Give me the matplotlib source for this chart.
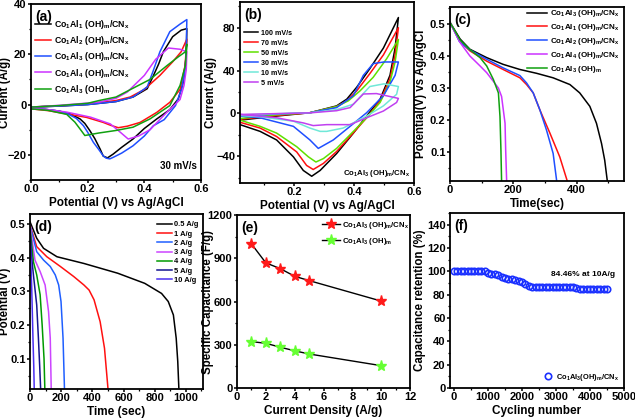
import matplotlib
matplotlib.use('Agg')
import matplotlib.pyplot as plt
from matplotlib.ticker import AutoMinorLocator, MultipleLocator

plt.rcParams['font.family'] = ['Liberation Sans', 'DejaVu Sans']
plt.rcParams['font.weight'] = 'bold'
plt.rcParams['axes.labelweight'] = 'bold'
plt.rcParams['mathtext.fontset'] = 'custom'
plt.rcParams['mathtext.rm'] = 'Liberation Sans:bold'
plt.rcParams['mathtext.it'] = 'Liberation Sans:bold'
plt.rcParams['mathtext.bf'] = 'Liberation Sans:bold'

### (a) CV at 30 mV/s, full loops (forward then reverse)
al1_v = [0.0, 0.1, 0.2, 0.3, 0.36, 0.41, 0.43, 0.45, 0.467, 0.5, 0.53, 0.55,
         0.548, 0.538, 0.52, 0.49, 0.444, 0.4, 0.36, 0.32, 0.29, 0.27, 0.255, 0.244,
         0.225, 0.208, 0.19, 0.173, 0.14, 0.1, 0.05, 0.0]
al1_i = [-1.0, -0.6, 0.0, 1.2, 3.0, 6.3, 11.0, 16.0, 21.0, 27.0, 29.6, 30.2,
         20.0, 9.0, 2.3, -2.0, -5.7, -9.5, -13.7, -17.0, -19.7, -21.2, -20.5, -17.7,
         -13.5, -10.4, -7.5, -5.7, -3.8, -2.6, -1.9, -1.6]
al2_v = [0.0, 0.1, 0.2, 0.3, 0.35, 0.4, 0.455, 0.5, 0.53, 0.55,
         0.544, 0.526, 0.49, 0.444, 0.385, 0.34, 0.308, 0.28, 0.255, 0.196, 0.126, 0.06, 0.0]
al2_i = [-1.0, -0.5, 0.2, 1.6, 3.0, 6.0, 11.6, 17.0, 21.0, 26.0,
         15.6, 6.0, 0.9, -3.1, -7.1, -8.6, -9.2, -8.2, -7.1, -5.1, -3.7, -2.4, -1.7]
al3_v = [0.0, 0.1, 0.2, 0.3, 0.36, 0.41, 0.43, 0.455, 0.49, 0.526, 0.55,
         0.548, 0.545, 0.532, 0.51, 0.47, 0.432, 0.4, 0.36, 0.32, 0.29, 0.278, 0.265,
         0.255, 0.24, 0.22, 0.2, 0.185, 0.16, 0.13, 0.1, 0.05, 0.0]
al3_i = [-1.0, -0.6, 0.0, 1.2, 3.0, 7.0, 13.0, 21.0, 29.0, 32.0, 33.8,
         22.0, 15.0, 6.3, -0.4, -6.0, -8.4, -12.5, -16.4, -19.3, -21.0, -21.6, -21.3,
         -20.4, -18.0, -15.0, -11.0, -8.4, -5.5, -3.7, -2.6, -1.9, -1.6]
al4_v = [0.0, 0.1, 0.2, 0.24, 0.3, 0.34, 0.4, 0.44, 0.485, 0.526, 0.55,
         0.548, 0.54, 0.526, 0.48, 0.42, 0.38, 0.343, 0.31, 0.28, 0.21, 0.126, 0.06, 0.0]
al4_i = [-1.0, -0.3, 0.6, 1.0, 2.5, 5.0, 11.6, 18.0, 22.5, 22.0, 21.0,
         14.0, 7.6, 2.0, -3.0, -10.0, -12.5, -13.7, -10.5, -7.7, -5.0, -3.0, -2.0, -1.5]
oh_v = [0.0, 0.1, 0.2, 0.24, 0.3, 0.36, 0.42, 0.48, 0.52, 0.545, 0.55,
        0.545, 0.526, 0.49, 0.42, 0.36, 0.3, 0.24, 0.19, 0.175, 0.155, 0.126, 0.06, 0.0]
oh_i = [-1.0, -0.4, 0.5, 1.6, 3.0, 6.5, 10.0, 15.5, 19.0, 21.0, 24.0,
        15.6, 7.6, -0.4, -5.7, -9.0, -10.3, -11.3, -12.3, -10.0, -7.0, -3.9, -2.3, -1.7]

### (b) CV of Co1Al3(OH)m/CNx at different scan rates
r100_v = [0.02, 0.142, 0.253, 0.342, 0.376, 0.409, 0.453, 0.498, 0.548,
          0.537, 0.52, 0.487, 0.442, 0.398, 0.342, 0.287, 0.259, 0.231, 0.198, 0.142, 0.087, 0.02]
r100_i = [-6.3, -2.5, 0.6, 7.0, 13.3, 24.4, 41.9, 61.0, 89.5,
          61.0, 35.6, 13.3, -2.5, -18.4, -37.5, -53.3, -58.7, -53.3, -40.6, -24.8, -16.8, -10.5]
r70_v = [0.02, 0.142, 0.253, 0.342, 0.376, 0.409, 0.453, 0.498, 0.548,
         0.537, 0.52, 0.487, 0.442, 0.398, 0.342, 0.298, 0.264, 0.242, 0.209, 0.142, 0.087, 0.02]
r70_i = [-5.5, -2.0, 0.6, 6.4, 11.7, 21.0, 37.2, 54.6, 80.0,
         54.6, 32.4, 11.7, -4.1, -18.1, -35.6, -46.7, -52.4, -48.6, -36.0, -21.6, -13.7, -8.3]
r50_v = [0.02, 0.142, 0.253, 0.342, 0.381, 0.42, 0.464, 0.509, 0.548,
         0.537, 0.52, 0.487, 0.442, 0.398, 0.342, 0.298, 0.273, 0.248, 0.209, 0.142, 0.087, 0.02]
r50_i = [-4.8, -1.3, 0.6, 6.4, 11.7, 21.0, 33.7, 51.1, 69.0,
         48.0, 29.2, 10.2, -4.1, -16.8, -32.7, -42.2, -45.4, -40.6, -31.1, -18.4, -12.1, -6.3]
r30_v = [0.02, 0.142, 0.253, 0.342, 0.398, 0.431, 0.464, 0.5, 0.548,
         0.537, 0.498, 0.442, 0.387, 0.331, 0.281, 0.253, 0.198, 0.087, 0.02]
r30_i = [-2.5, -0.6, 0.6, 5.4, 16.5, 35.5, 46.5, 48.0, 48.0,
         35.5, 16.5, 0.6, -12.1, -24.8, -32.7, -24.8, -12.1, -4.1, -2.5]
r10_v = [0.02, 0.142, 0.253, 0.342, 0.398, 0.453, 0.5, 0.548,
         0.542, 0.498, 0.442, 0.364, 0.309, 0.287, 0.253, 0.198, 0.087, 0.02]
r10_i = [-1.5, -0.3, 0.6, 3.5, 8.6, 25.1, 27.6, 25.1,
         17.8, 7.0, -2.5, -13.7, -16.8, -16.8, -13.7, -7.3, -3.2, -2.0]
r5_v = [0.02, 0.142, 0.253, 0.342, 0.387, 0.431, 0.475, 0.548,
        0.542, 0.498, 0.442, 0.387, 0.309, 0.264, 0.231, 0.142, 0.02]
r5_i = [-1.0, -0.2, 0.5, 2.5, 5.4, 18.1, 18.5, 14.0,
        10.2, 2.2, -4.1, -10.5, -10.5, -11.4, -8.9, -4.1, -1.0]

### (c) discharge curves of the samples
c_al3_t = [0, 32, 63, 116, 168, 221, 274, 326, 379, 410, 442, 463, 479, 489, 497]
c_al3_v = [0.505, 0.453, 0.421, 0.395, 0.374, 0.358, 0.346, 0.332, 0.311, 0.285, 0.243, 0.19, 0.127, 0.075, 0.012]
c_al1_t = [0, 30, 63, 116, 168, 221, 242, 263, 284, 316, 347, 370]
c_al1_v = [0.505, 0.447, 0.416, 0.384, 0.358, 0.332, 0.311, 0.285, 0.232, 0.159, 0.085, 0.012]
c_al2_t = [0, 30, 63, 116, 168, 221, 242, 263, 284, 305, 326, 337]
c_al2_v = [0.505, 0.445, 0.419, 0.39, 0.363, 0.339, 0.316, 0.285, 0.232, 0.169, 0.096, 0.012]
c_al4_t = [0, 32, 63, 95, 116, 137, 153, 163, 174, 176, 179]
c_al4_v = [0.505, 0.442, 0.40, 0.369, 0.348, 0.321, 0.30, 0.274, 0.19, 0.106, 0.012]
c_oh_t = [0, 32, 63, 95, 116, 137, 153, 158, 161, 163]
c_oh_v = [0.505, 0.45, 0.42, 0.395, 0.369, 0.327, 0.285, 0.211, 0.106, 0.012]

### (d) discharge curves at different current densities
d05_t = [0, 43, 87, 173, 346, 563, 736, 844, 887, 920, 938, 948, 955]
d05_v = [0.507, 0.458, 0.428, 0.403, 0.383, 0.354, 0.324, 0.294, 0.27, 0.23, 0.161, 0.092, 0.013]
d1_t = [0, 43, 108, 195, 281, 346, 379, 411, 450, 478, 500]
d1_v = [0.497, 0.433, 0.403, 0.374, 0.344, 0.319, 0.304, 0.275, 0.21, 0.131, 0.013]
d2_t = [0, 43, 87, 130, 162, 184, 199, 212, 221]
d2_v = [0.497, 0.418, 0.393, 0.374, 0.349, 0.319, 0.27, 0.161, 0.013]
d3_t = [0, 32, 65, 97, 119, 130, 136]
d3_v = [0.497, 0.393, 0.359, 0.319, 0.24, 0.161, 0.013]
d4_t = [0, 22, 43, 65, 78, 90, 95]
d4_v = [0.49, 0.388, 0.349, 0.29, 0.2, 0.1, 0.013]
d5_t = [0, 11, 22, 43, 54, 62, 68]
d5_v = [0.48, 0.4, 0.349, 0.26, 0.161, 0.08, 0.013]
d10_t = [0, 5, 11, 19, 24, 27]
d10_v = [0.47, 0.4, 0.31, 0.161, 0.08, 0.013]

### (e) specific capacitance
density = [1, 2, 3, 4, 5, 10]
cap_cnx = [1000, 868, 828, 775, 745, 603]
cap_oh = [322, 310, 283, 258, 236, 155]

### (f) cycling stability
cycles = list(range(0, 4501, 100))
retention = [100, 100, 100, 100, 100, 100, 100, 100, 100, 100,
             98.5, 98, 98, 97, 95, 94, 93.5, 93.5, 92.5, 92,
             90.5, 89, 87.5, 87, 87, 86.8, 86.7, 86.5, 86.5, 86.5,
             86.5, 86.5, 86.5, 86.5, 86.5, 86.5, 86, 85, 84.5, 84.5,
             84.5, 84.5, 84.5, 84.5, 84.5, 84.46]

lab_al1 = r'Co$_1$Al$_1$ (OH)$_m$/CN$_x$'
lab_al2 = r'Co$_1$Al$_2$ (OH)$_m$/CN$_x$'
lab_al3 = r'Co$_1$Al$_3$ (OH)$_m$/CN$_x$'
lab_al4 = r'Co$_1$Al$_4$ (OH)$_m$/CN$_x$'
lab_oh = r'Co$_1$Al$_3$ (OH)$_m$'

def style(ax):
    for s in ax.spines.values():
        s.set_linewidth(1.3)
    ax.xaxis.set_minor_locator(AutoMinorLocator(2))
    ax.yaxis.set_minor_locator(AutoMinorLocator(2))
    ax.tick_params(which='major', direction='out', length=2.2, width=1.1, labelsize=8, pad=1.0)
    ax.tick_params(which='minor', direction='out', length=1.3, width=0.9)

def labels(ax, xl, yl, ylx):
    ax.set_xlabel(xl, fontsize=8.5, labelpad=2)
    ax.set_ylabel(yl, fontsize=8.3)
    ax.yaxis.set_label_coords(ylx, 0.5)

def panel(ax, letter):
    ax.text(0.025, 0.965, letter, transform=ax.transAxes, fontsize=10,
            fontweight='bold', ha='left', va='top')

fig = plt.figure(figsize=(6.35, 4.19), dpi=100)
W, H = 635., 419.
def place(l, r, t, b):
    return fig.add_axes([l/W, 1-b/H, (r-l)/W, (b-t)/H])

### (a)
ax = place(31, 201, 4, 180)
ax.plot(al1_v, al1_i, color='k', lw=1.1, label=lab_al1)
ax.plot(al2_v, al2_i, color='#ff1010', lw=1.1, label=lab_al2)
ax.plot(al3_v, al3_i, color='#1f4fff', lw=1.1, label=lab_al3)
ax.plot(al4_v, al4_i, color='#cc33ff', lw=1.1, label=lab_al4)
ax.plot(oh_v, oh_i, color='#10a010', lw=1.1, label=lab_oh)
ax.set_xlim(0, 0.6)
ax.set_ylim(-30, 40)
ax.yaxis.set_major_locator(MultipleLocator(20))
ax.set_xticks([0, 0.2, 0.4, 0.6], ['0.0', '0.2', '0.4', '0.6'])
style(ax)
labels(ax, 'Potential (V) vs Ag/AgCl', 'Current (A/g)', -0.116)
ax.legend(loc='upper left', bbox_to_anchor=(0.0, 0.945), frameon=False, fontsize=6.3,
          handlelength=1.8, handletextpad=0.35, labelspacing=0.36, borderaxespad=0.1)
ax.text(0.585, -24.5, '30 mV/s', fontsize=7, ha='right', va='center')
panel(ax, '(a)')

### (b)
ax = place(240, 414, 2, 183)
ax.plot(r100_v, r100_i, color='k', lw=1.1, label='100 mV/s')
ax.plot(r70_v, r70_i, color='#ff1010', lw=1.1, label='70 mV/s')
ax.plot(r50_v, r50_i, color='#5fe000', lw=1.1, label='50 mV/s')
ax.plot(r30_v, r30_i, color='#1f4fff', lw=1.1, label='30 mV/s')
ax.plot(r10_v, r10_i, color='#70e8d8', lw=1.1, label='10 mV/s')
ax.plot(r5_v, r5_i, color='#c040f0', lw=1.1, label='5 mV/s')
ax.set_xlim(0.02, 0.6)
ax.set_ylim(-65, 104)
ax.set_xticks([0.2, 0.4, 0.6], ['0.2', '0.4', '0.6'])
ax.yaxis.set_major_locator(MultipleLocator(40))
style(ax)
labels(ax, 'Potential (V) vs Ag/AgCl', 'Current (A/g)', -0.13)
ax.legend(loc='upper left', bbox_to_anchor=(0.0, 0.87), frameon=False, fontsize=5.1,
          handlelength=2.0, handletextpad=0.3, labelspacing=0.42, borderaxespad=0.2)
ax.text(0.587, -56.5, lab_al3, fontsize=5.6, ha='right', va='center')
panel(ax, '(b)')

### (c)
ax = place(450, 624, 7, 181)
ax.plot(c_al3_t, c_al3_v, color='k', lw=1.1, label=lab_al3)
ax.plot(c_al1_t, c_al1_v, color='#ff1010', lw=1.1, label=lab_al1)
ax.plot(c_al2_t, c_al2_v, color='#1f4fff', lw=1.1, label=lab_al2)
ax.plot(c_al4_t, c_al4_v, color='#cc33ff', lw=1.1, label=lab_al4)
ax.plot(c_oh_t, c_oh_v, color='#10a010', lw=1.1, label=lab_oh)
ax.set_xlim(0, 550)
ax.set_ylim(0.01, 0.553)
ax.xaxis.set_major_locator(MultipleLocator(200))
ax.set_yticks([0.1, 0.2, 0.3, 0.4, 0.5])
style(ax)
labels(ax, 'Time(sec)', 'Potential(V) vs Ag/AgCl', -0.132)
ax.legend(loc='upper right', bbox_to_anchor=(1.0, 1.02), frameon=False, fontsize=5.8,
          handlelength=2.4, handletextpad=0.4, labelspacing=0.35, borderaxespad=0.2)
panel(ax, '(c)')

### (d)
ax = place(30, 203, 214, 389)
ax.plot(d05_t, d05_v, color='k', lw=1.1, label='0.5 A/g')
ax.plot(d1_t, d1_v, color='#ff1010', lw=1.1, label='1 A/g')
ax.plot(d2_t, d2_v, color='#1f5fff', lw=1.1, label='2 A/g')
ax.plot(d3_t, d3_v, color='#cc44ff', lw=1.1, label='3 A/g')
ax.plot(d4_t, d4_v, color='#009a00', lw=1.1, label='4 A/g')
ax.plot(d5_t, d5_v, color='#141490', lw=1.1, label='5 A/g')
ax.plot(d10_t, d10_v, color='#4a30f0', lw=1.1, label='10 A/g')
ax.set_xlim(0, 1110)
ax.set_ylim(0.01, 0.53)
ax.xaxis.set_major_locator(MultipleLocator(200))
ax.set_yticks([0.1, 0.2, 0.3, 0.4, 0.5])
style(ax)
labels(ax, 'Time (sec)', 'Potential (V)', -0.108)
ax.legend(loc='upper right', bbox_to_anchor=(1.0, 0.985), frameon=False, fontsize=5.4,
          handlelength=2.0, handletextpad=0.3, labelspacing=0.27, borderaxespad=0.2)
panel(ax, '(d)')

### (e)
ax = place(237, 410, 215, 388)
ax.plot(density, cap_cnx, color='k', lw=1.0, marker='*', ms=8, mfc='#ff1a1a',
        mec='#ff1a1a', label=lab_al3)
ax.plot(density, cap_oh, color='k', lw=1.0, marker='*', ms=8, mfc='#66ff33',
        mec='#66ff33', label=lab_oh)
ax.set_xlim(0, 12)
ax.set_ylim(0, 1200)
ax.xaxis.set_major_locator(MultipleLocator(2))
ax.yaxis.set_major_locator(MultipleLocator(300))
style(ax)
labels(ax, 'Current Density (A/g)', 'Specific Capacitance (F/g)', -0.135)
ax.legend(loc='upper right', bbox_to_anchor=(1.02, 1.0), frameon=False, fontsize=5.6,
          numpoints=1, handlelength=2.4, handletextpad=0.2, labelspacing=0.7,
          borderaxespad=0.2)
panel(ax, '(e)')

### (f)
ax = place(450, 624, 213, 388)
ax.plot(cycles, retention, ls='none', marker='o', ms=4.6, mfc='none', mec='#1a30ff',
        mew=1.2, label=r'Co$_1$Al$_3$(OH)$_m$/CN$_x$')
ax.set_xlim(-120, 5000)
ax.set_ylim(0, 150)
ax.xaxis.set_major_locator(MultipleLocator(1000))
ax.yaxis.set_major_locator(MultipleLocator(20))
style(ax)
labels(ax, 'Cycling number', 'Capacitance retention (%)', -0.14)
ax.text(3800, 97.5, '84.46% at 10A/g', fontsize=6, ha='center', va='center')
ax.legend(loc='lower right', frameon=False, fontsize=5.4, numpoints=1,
          handlelength=1.5, handletextpad=0.3, borderaxespad=0.3)
panel(ax, '(f)')

fig.savefig('out.png', dpi=100)
